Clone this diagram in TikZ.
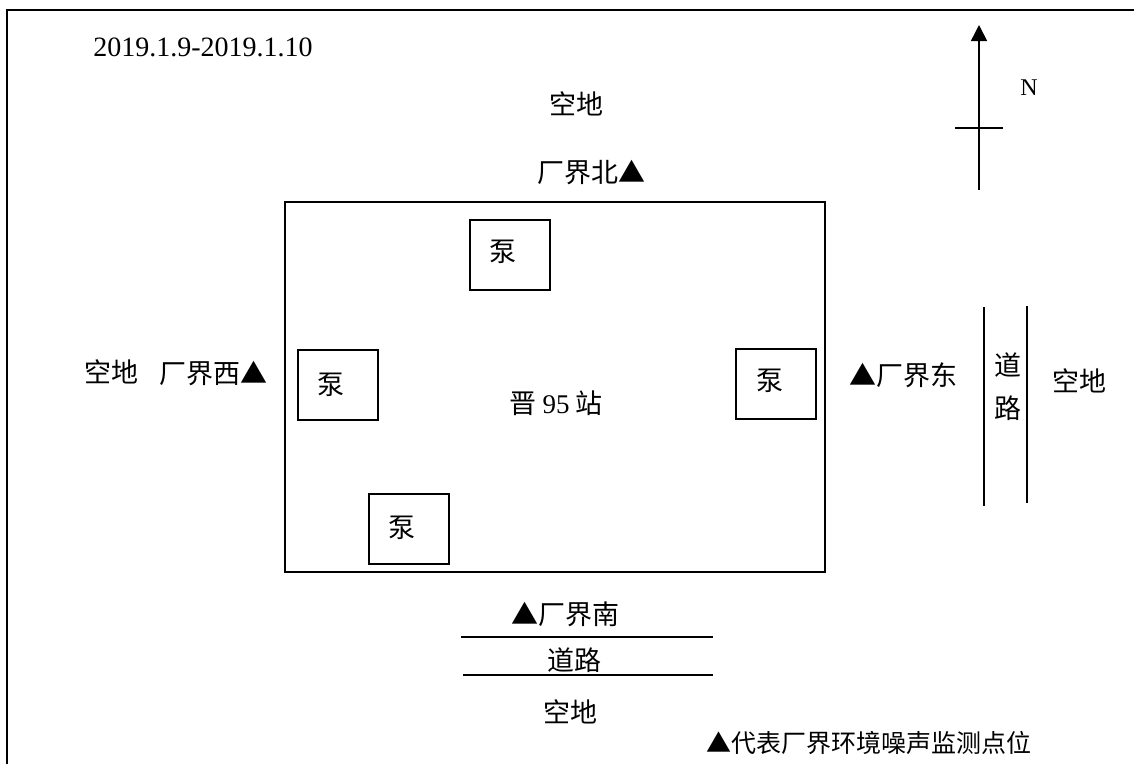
\documentclass[tikz,border=0pt]{standalone}
\usepackage{fontspec}
\setmainfont{Liberation Serif}
\newfontfamily\cjk{Noto Sans CJK SC}
\usetikzlibrary{arrows.meta,positioning}
\tikzset{
	txt/.style={inner sep=0pt,font=\fontsize{27}{31}\selectfont\cjk},
	lat/.style={inner sep=0pt,font=\fontsize{28}{32}\selectfont},
	pump/.style={draw,line width=1.5pt,minimum width=80pt,minimum height=70pt,inner sep=0pt},
	wall/.style={line width=1.6pt}
}
\begin{document}
\begin{tikzpicture}[x=1pt,y=-1pt]
	\useasboundingbox (0,0) rectangle (1134,764);
	\draw[line width=1.8pt] (7,764) -- (7,10) -- (1134,10);

	\node[lat] (date) at (203,47) {2019.1.9-2019.1.10};
	\node[txt] (nland) at (576,104) {空地};
	\node[txt] (nlabel) at (591,173) {厂界北▲};

	% north arrow
	\coordinate (ntail) at (979,190);
	\coordinate (nhead) at (979,25);
	\draw[line width=1.6pt,-{Triangle[width=16pt,length=16pt]}] (ntail) -- (nhead);
	\coordinate (nl) at (955,128);
	\coordinate (nr) at (1003,128);
	\draw[wall] (nl) -- (nr);
	\node[font=\fontsize{24}{28}\selectfont,inner sep=0pt] (nmark) at (1029,88) {N};

	% station
	\node[draw,line width=1.6pt,minimum width=540pt,minimum height=370pt,inner sep=0pt] (site) at (555,387) {};
	\node[txt] (name) at (556,403) {晋 {\rmfamily 95} 站};
	\node[pump] (p1) at (510,255) {};
	\node[pump] (p2) at (338,385) {};
	\node[pump] (p3) at (776,384) {};
	\node[pump] (p4) at (409,529) {};
	\node[txt] (p1t) at (503,252) {泵};
	\node[txt] (p2t) at (331,385) {泵};
	\node[txt] (p3t) at (770,381) {泵};
	\node[txt] (p4t) at (402,528) {泵};

	% west and east
	\node[txt] (wland) at (111,372) {空地};
	\node[txt] (wlabel) at (213,374) {厂界西▲};
	\node[txt] (elabel) at (903,375) {▲厂界东};
	\node[txt] (eland) at (1079,381) {空地};
	\coordinate (ea) at (984,307);
	\coordinate (eb) at (984,506);
	\coordinate (ec) at (1027,306);
	\coordinate (ed) at (1027,503);
	\draw[wall] (ea) -- (eb);
	\draw[wall] (ec) -- (ed);
	\node[txt,align=center] (eroad) at (1008,387) {道\\[12pt]路};

	% south
	\node[txt] (slabel) at (565,614) {▲厂界南};
	\coordinate (sa) at (461,637);
	\coordinate (sb) at (713,637);
	\coordinate (sc) at (463,675);
	\coordinate (sd) at (713,675);
	\draw[wall] (sa) -- (sb);
	\draw[wall] (sc) -- (sd);
	\node[txt] (sroad) at (574,660) {道路};
	\node[txt] (sland) at (570,712) {空地};
	\node[txt,font=\fontsize{25}{29}\selectfont\cjk] (legend) at (869,743) {▲代表厂界环境噪声监测点位};
\end{tikzpicture}
\end{document}
